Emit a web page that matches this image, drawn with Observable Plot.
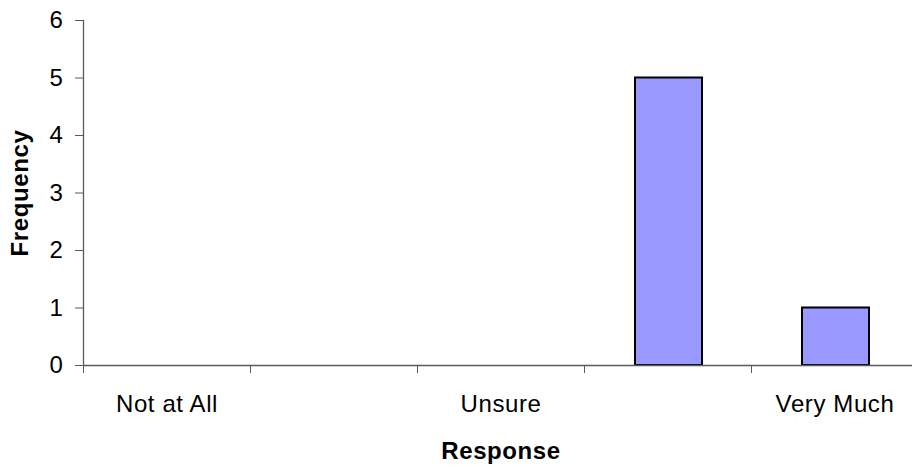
<!DOCTYPE html>
<html>
<head>
<meta charset="utf-8">
<script src="https://cdn.jsdelivr.net/npm/d3@7"></script>
<script src="https://cdn.jsdelivr.net/npm/@observablehq/plot@0.6"></script>
<style>
  html, body { margin: 0; padding: 0; background: #fff; }
  svg { font-family: "Liberation Sans", Arial, sans-serif; overflow: visible; }
  svg text { letter-spacing: 0.6px; }
</style>
</head>
<body>
<div id="chart"></div>
<script>
const categories = ["Not at All", "", "Unsure", "", "Very Much"];
const frequencies = [0, 0, 0, 5, 1];
const yTicks = [0, 1, 2, 3, 4, 5, 6];

const data = categories.map((c, i) => ({i, category: c, value: frequencies[i]}));
const boundaries = d3.range(categories.length + 1);
const centers = categories.map((c, i) => i + 0.5);

const axisColor = "#5a5a5a";

const chart = Plot.plot({
  width: 912,
  height: 467,
  marginTop: 20,
  marginBottom: 102,
  marginLeft: 83,
  marginRight: 0,
  style: {fontFamily: "Liberation Sans, Arial, sans-serif", background: "#fff", color: "#000"},
  x: {type: "linear", domain: [0, categories.length], range: [83, 918]},
  y: {domain: [0, 6], range: [365, 20]},
  marks: [
    Plot.rectY(data, {
      x1: "i",
      x2: d => d.i + 1,
      y: "value",
      insetLeft: 51,
      insetRight: 49,
      fill: "#9999FF",
      stroke: "#000",
      strokeWidth: 2,
      filter: d => d.value > 0
    }),
    Plot.ruleY([0], {stroke: axisColor, strokeWidth: 1.3}),
    Plot.ruleX([0], {y1: 0, y2: 6, stroke: axisColor, strokeWidth: 1.3}),
    Plot.axisY({
      ticks: yTicks,
      tickSize: 8,
      tickPadding: 12,
      fontSize: 24,
      tickFormat: d => String(d),
      stroke: axisColor,
      color: "#000",
      label: null
    }),
    Plot.axisX({
      ticks: boundaries,
      tickSize: 8,
      tickFormat: () => "",
      stroke: axisColor,
      label: null
    }),
    Plot.axisX({
      ticks: centers,
      tickSize: 0,
      tickPadding: 29,
      fontSize: 24,
      tickFormat: d => categories[Math.floor(d)],
      color: "#000",
      label: null
    }),
    Plot.text(["Frequency"], {
      frameAnchor: "left",
      textAnchor: "middle",
      dx: -63,
      rotate: -90,
      fontSize: 24,
      fontWeight: "bold",
      fill: "#000"
    }),
    Plot.text(["Response"], {
      x: categories.length / 2,
      y: 0,
      dy: 86,
      fontSize: 24,
      fontWeight: "bold",
      fill: "#000"
    })
  ]
});

document.getElementById("chart").appendChild(chart);
</script>
</body>
</html>
